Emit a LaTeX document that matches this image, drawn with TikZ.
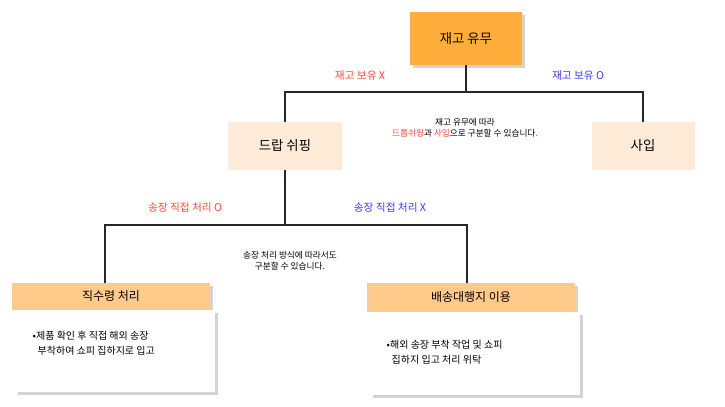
\documentclass[tikz,border=0pt]{standalone}
\usepackage{fontspec}
\setmainfont{Noto Sans CJK KR}
\usetikzlibrary{shadows}
\definecolor{topc}{HTML}{FFAD3B}
\definecolor{midc}{HTML}{FDEBD8}
\definecolor{hdrc}{HTML}{FFCA8A}
\definecolor{redt}{HTML}{FF4A3A}
\definecolor{bluet}{HTML}{3A3AFF}
\begin{document}
\begin{tikzpicture}[x=0.75pt,y=-0.75pt,
  conn/.style={draw=black!85,line width=1.2pt},
  shbox/.style={drop shadow={shadow xshift=2pt,shadow yshift=-2pt,opacity=0.35}},
  lbl/.style={font=\fontsize{8}{10}\selectfont}]
\useasboundingbox (0,0) rectangle (725,407);
% top
\node[shbox,fill=topc,minimum width=112*0.75pt,minimum height=53*0.75pt,inner sep=0,font=\fontsize{10}{12}\selectfont] (top) at (466,38.5) {재고 유무};
\node[fill=midc,minimum width=114*0.75pt,minimum height=48*0.75pt,inner sep=0,font=\fontsize{10}{12}\selectfont] (ds) at (285,146) {드랍 쉬핑};
\node[fill=midc,minimum width=103*0.75pt,minimum height=48*0.75pt,inner sep=0,font=\fontsize{10}{12}\selectfont] (buy) at (643,146) {사입};
\coordinate (j1) at (466,92);
\draw[conn] (top.south) -- (j1);
\draw[conn] (ds.north) |- (j1) -| (buy.north);
\node[lbl,text=redt] (l1) at (360,76) {재고 보유 X};
\node[lbl,text=bluet] (l2) at (578,76) {재고 보유 O};
\node[font=\fontsize{6.5}{8}\selectfont,align=center] (n1) at (465,128) {재고 유무에 따라\\\textcolor{redt}{드롭쉬핑}과 \textcolor{redt}{사입}으로 구분할 수 있습니다\textcolor{redt}{.}};
% bottom
\node[shbox,fill=hdrc,minimum width=198*0.75pt,minimum height=27*0.75pt,inner sep=0,font=\fontsize{9}{11}\selectfont] (h1) at (111,296.5) {직수령 처리};
\node[shbox,fill=hdrc,minimum width=208*0.75pt,minimum height=29*0.75pt,inner sep=0,font=\fontsize{9}{11}\selectfont] (h2) at (471,297.5) {배송대행지 이용};
\node[shbox,fill=white,minimum width=200*0.75pt,minimum height=82*0.75pt,inner sep=0] (b1) at (115,351) {};
\node[shbox,fill=white,minimum width=210*0.75pt,minimum height=83*0.75pt,inner sep=0] (b2) at (475,353.5) {};
\node[font=\fontsize{7.5}{11}\selectfont,align=left,anchor=west] (t1) at (28,343) {•제품 확인 후 직접 해외 송장\\\hspace*{0.5em}부착하여 쇼피 집하지로 입고};
\node[font=\fontsize{7.5}{11}\selectfont,align=left,anchor=west] (t2) at (382,352) {•해외 송장 부착 작업 및 쇼피\\\hspace*{0.5em}집하지 입고 처리 위탁};
\coordinate (j2) at (285,225);
\draw[conn] (ds.south) -- (j2);
\draw[conn] ([xshift=-6*0.75pt]h1.north) |- (j2) -| ([xshift=-4*0.75pt]h2.north);
\node[lbl,text=redt] (l3) at (185,208) {송장 직접 처리 O};
\node[lbl,text=bluet] (l4) at (390,208) {송장 직접 처리 X};
\node[font=\fontsize{6.5}{8}\selectfont,align=center] (n2) at (290,261) {송장 처리 방식에 따라서도\\구분할 수 있습니다.};
\end{tikzpicture}
\end{document}
